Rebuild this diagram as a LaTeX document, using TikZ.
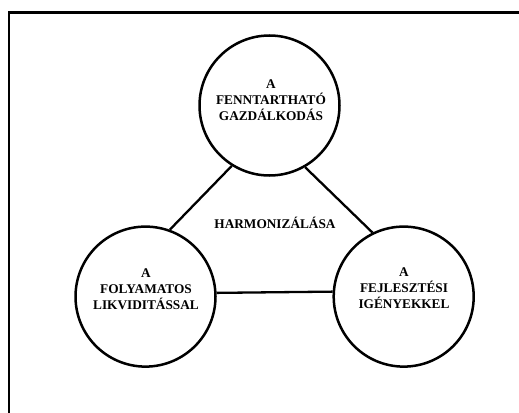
\documentclass[tikz,border=0pt]{standalone}
\usepackage{fontspec}
\setmainfont{Liberation Serif}
\begin{document}
\begin{tikzpicture}[x=1pt,y=-1pt,
  ring/.style={circle,draw,line width=2.5pt,minimum size=140pt,inner sep=0pt},
  lbl/.style={align=center,font=\fontsize{13.3}{16}\selectfont\bfseries,inner sep=0pt},
  link/.style={line width=2.3pt}]
\useasboundingbox (0,0) rectangle (519,412);
\clip (0,0) rectangle (519,412);
\fill[white] (0,0) rectangle (519,412);
\draw[line width=2.8pt] (9,12.5) rectangle (540,440);
\node[ring] (t) at (269.5,105.5) {};
\node[ring] (l) at (145.5,296.6) {};
\node[ring] (r) at (403.7,296.6) {};
\node[lbl] (tt) at (271,100.4) {A\\FENNTARTHATÓ\\GAZDÁLKODÁS};
\node[lbl] (lt) at (146,289.3) {A\\FOLYAMATOS\\LIKVIDITÁSSAL};
\node[lbl] (rt) at (404,287.8) {A\\FEJLESZTÉSI\\IGÉNYEKKEL};
\node[lbl] (h) at (275,222.5) {HARMONIZÁLÁSA};
\draw[link] (t.238.3) -- (l.70.5);
\draw[link] (t.300.6) -- (r.116.3);
\draw[link] (l.3.6) -- (r.176.4);
\end{tikzpicture}
\end{document}
